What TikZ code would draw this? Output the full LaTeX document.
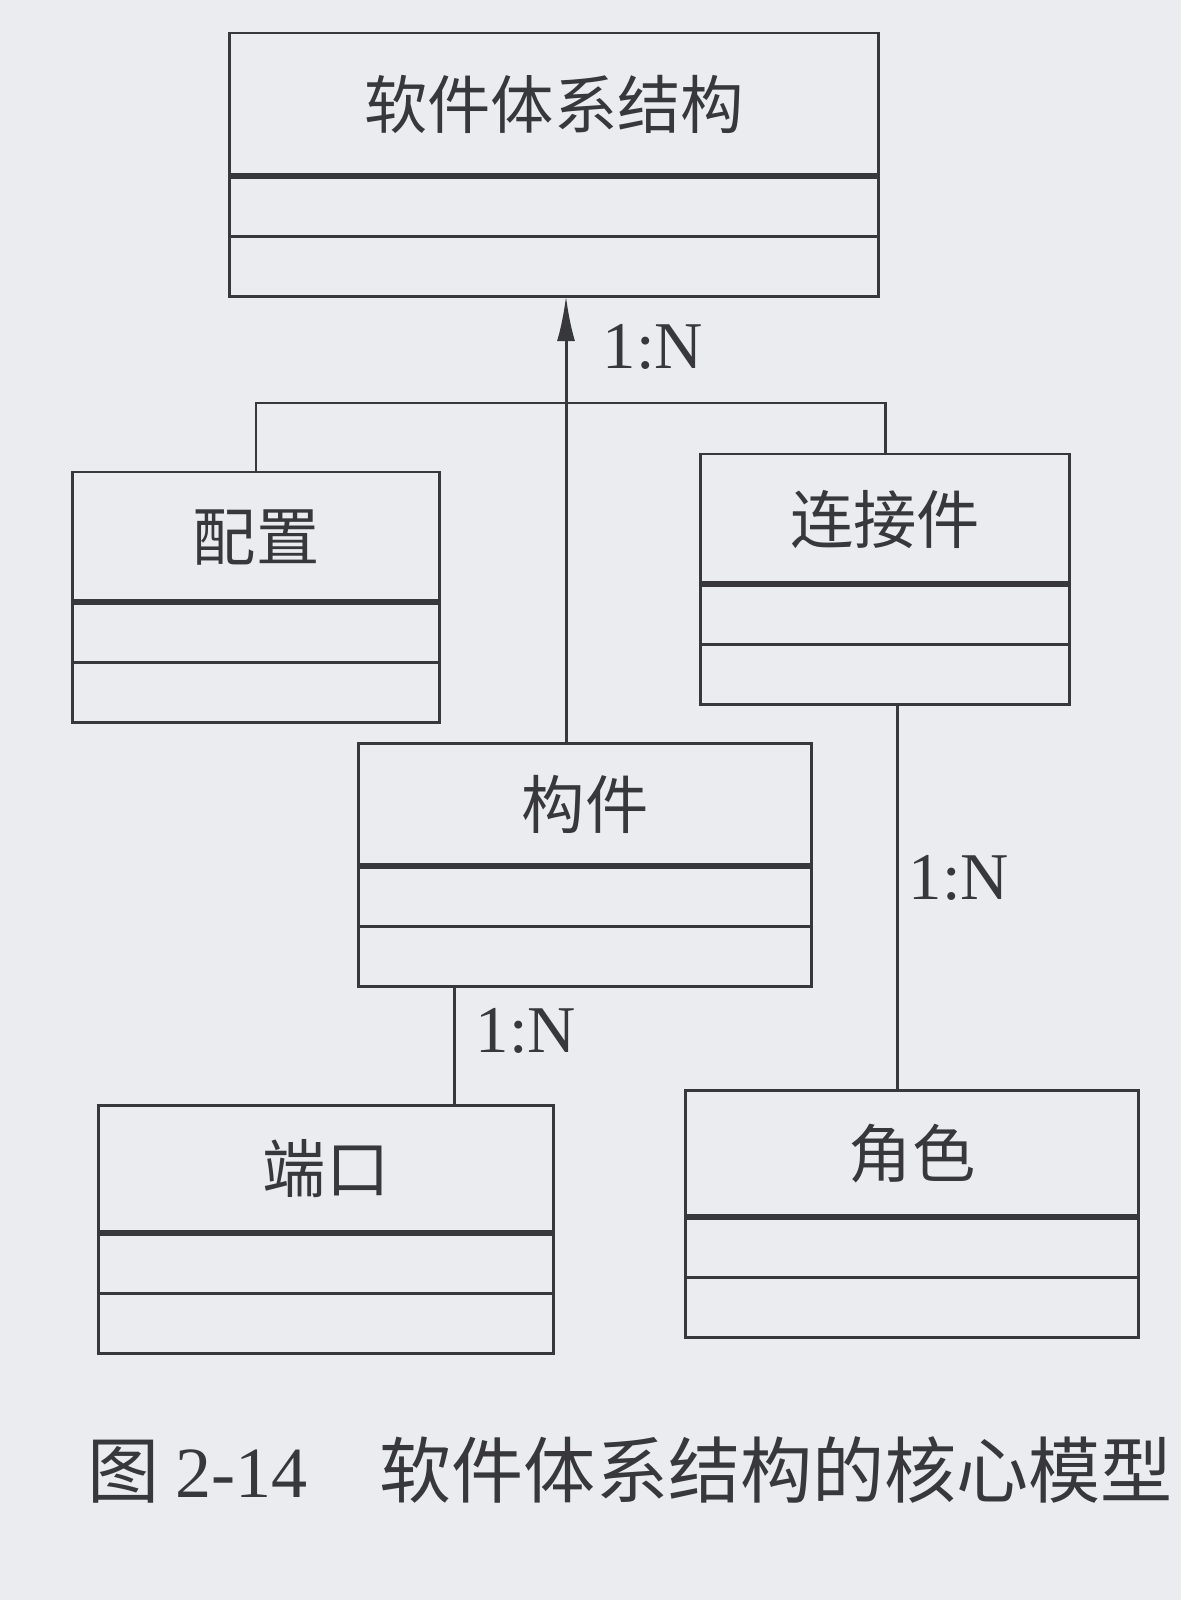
\documentclass[tikz,border=0pt]{standalone}
\usepackage{fontspec}
\setmainfont{Liberation Serif}
\newfontfamily\cjk{Noto Sans CJK SC}
\usepackage{tikz}
\usetikzlibrary{arrows.meta,positioning}
\definecolor{ink}{RGB}{55,55,60}
\definecolor{paper}{RGB}{234,236,240}
\tikzset{
  name_/.style = {shape=rectangle, draw, anchor=north, inner sep=0pt, outer sep=0pt, align=center,
                  font=\cjk\fontsize{18}{18}\selectfont},
  part_/.style = {shape=rectangle, draw, inner sep=0pt, outer sep=0pt, minimum height=0.6cm},
  bar_/.style  = {line width=1.8pt},
  card_/.style = {font=\fontsize{19}{19}\selectfont}
}

\begin{document}
\begin{tikzpicture}
		[
		x          = 0.01cm,
		y          = -0.01cm,
		color      = ink,
		line width = 0.85pt
		]
		\fill[paper] (0,0) rectangle (1181,1600);
		\useasboundingbox (0,0) rectangle (1181,1600);

		\node [name_, minimum width=6.48cm, minimum height=1.43cm] (arch) at (554,33) {软件体系结构};
		\node [part_, minimum width=6.48cm, below=0pt of arch] (arch-a) {};
		\node [part_, minimum width=6.48cm, below=0pt of arch-a] (arch-o) {};
		\draw [bar_] (arch.south west) -- (arch.south east);

		\node [name_, minimum width=3.66cm, minimum height=1.30cm] (conf) at (256,472) {配置};
		\node [part_, minimum width=3.66cm, below=0pt of conf] (conf-a) {};
		\node [part_, minimum width=3.66cm, below=0pt of conf-a] (conf-o) {};
		\draw [bar_] (conf.south west) -- (conf.south east);

		\node [name_, minimum width=3.68cm, minimum height=1.30cm] (conn) at (885,454) {连接件};
		\node [part_, minimum width=3.68cm, below=0pt of conn] (conn-a) {};
		\node [part_, minimum width=3.68cm, below=0pt of conn-a] (conn-o) {};
		\draw [bar_] (conn.south west) -- (conn.south east);

		\node [name_, minimum width=4.52cm, minimum height=1.23cm] (comp) at (585,743) {构件};
		\node [part_, minimum width=4.52cm, below=0pt of comp] (comp-a) {};
		\node [part_, minimum width=4.52cm, below=0pt of comp-a] (comp-o) {};
		\draw [bar_] (comp.south west) -- (comp.south east);

		\node [name_, minimum width=4.54cm, minimum height=1.28cm] (port) at (326,1105) {端口};
		\node [part_, minimum width=4.54cm, below=0pt of port] (port-a) {};
		\node [part_, minimum width=4.54cm, below=0pt of port-a] (port-o) {};
		\draw [bar_] (port.south west) -- (port.south east);

		\node [name_, minimum width=4.52cm, minimum height=1.27cm] (role) at (912,1090) {角色};
		\node [part_, minimum width=4.52cm, below=0pt of role] (role-a) {};
		\node [part_, minimum width=4.52cm, below=0pt of role-a] (role-o) {};
		\draw [bar_] (role.south west) -- (role.south east);

		\coordinate (bus) at (566,403);
		\coordinate (pline) at (454,0);
		\coordinate (rline) at (897,0);

		\draw [-{Latex[length=0.45cm, width=0.18cm]}] (comp.north -| bus) -- (arch-o.south -| bus);
		\draw (conf.north) |- (bus) -| (conn.north);
		\draw (conn-o.south -| rline) -- (role.north -| rline);
		\draw (comp-o.south -| pline) -- (port.north -| pline);

		\node [card_] (m-arch) at (653,347) {1:N};
		\node [card_] (m-role) at (959,878) {1:N};
		\node [card_] (m-port) at (526,1031) {1:N};

		\node [font=\cjk\fontsize{20.5}{20.5}\selectfont] (caption) at (630,1470)
			{图 {\rmfamily 2-14}\quad 软件体系结构的核心模型};
\end{tikzpicture}
\end{document}
